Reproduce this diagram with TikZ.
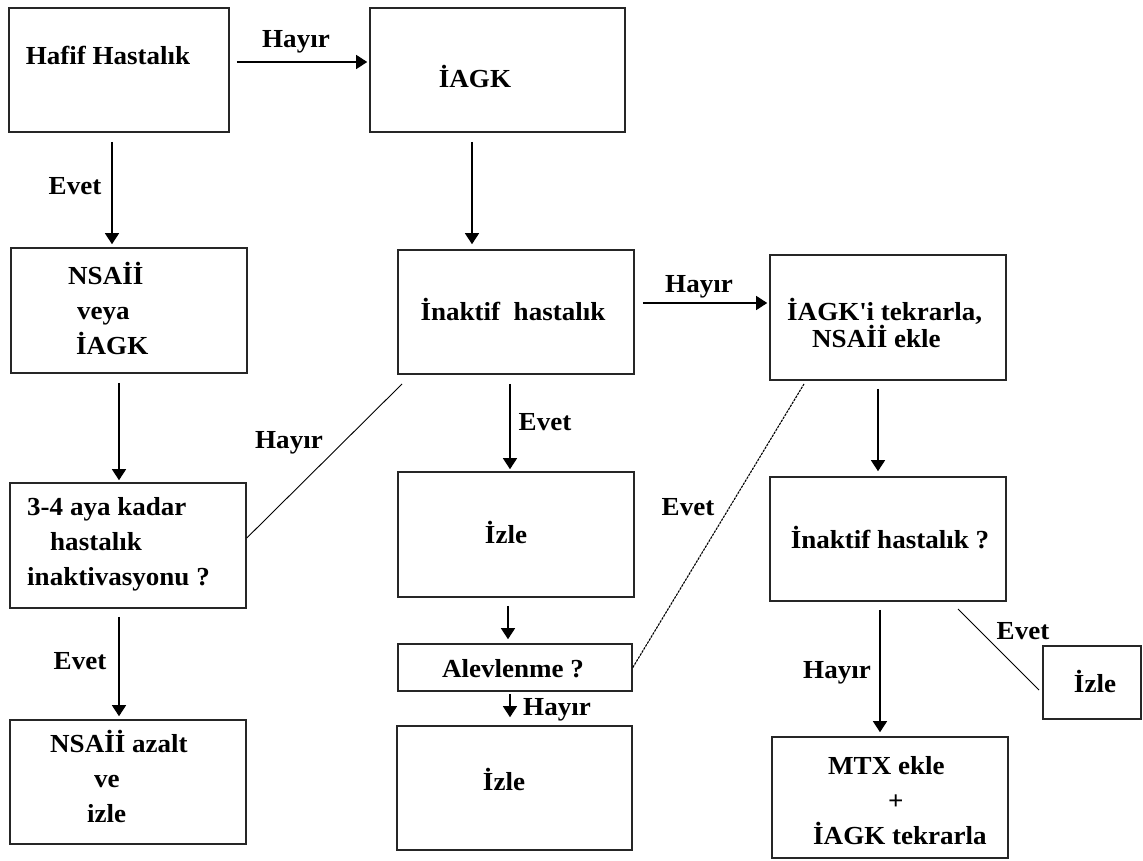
\documentclass[tikz,border=0pt]{standalone}
\usepackage{fontspec}
\setmainfont{Liberation Serif}[FakeStretch=1.04]
\usetikzlibrary{arrows.meta}
\tikzset{
  box/.style={draw=black!85, line width=1.6pt, inner sep=0pt},
  txt/.style={font=\fontsize{26}{35}\selectfont\bfseries, inner sep=0pt},
  lbl/.style={font=\fontsize{26}{30}\selectfont\bfseries, inner sep=0pt, anchor=base},
  arr/.style={line width=1.3pt, -{Triangle[width=14pt,length=11pt]}},
  ln/.style={line width=0.9pt},
}
\begin{document}
\begin{tikzpicture}[x=1pt,y=-1pt]
\useasboundingbox (0,0) rectangle (1143,861);
% boxes
\node[box, minimum width=220pt, minimum height=124pt] (A) at (119,70) {};
\node[box, minimum width=255pt, minimum height=124pt] (B) at (497.5,70) {};
\node[box, minimum width=236pt, minimum height=125pt] (C) at (129,310.5) {};
\node[box, minimum width=236pt, minimum height=124pt] (D) at (516,312) {};
\node[box, minimum width=236pt, minimum height=125pt] (E) at (888,317.5) {};
\node[box, minimum width=236pt, minimum height=124pt] (F) at (888,539) {};
\node[box, minimum width=236pt, minimum height=125pt] (G) at (128,545.5) {};
\node[box, minimum width=236pt, minimum height=125pt] (H) at (516,534.5) {};
\node[box, minimum width=234pt, minimum height=47pt] (I) at (515,667.5) {};
\node[box, minimum width=235pt, minimum height=124pt] (J) at (514.5,788) {};
\node[box, minimum width=236pt, minimum height=121pt] (K) at (890,797.5) {};
\node[box, minimum width=98pt, minimum height=73pt] (L) at (1092,682.5) {};
\node[box, minimum width=236pt, minimum height=124pt] (M) at (128,782) {};
% texts
\node[txt, anchor=base] (tA) at (108,65) {Hafif Hastalık};
\node[txt, anchor=base] (tB) at (475,88) {İAGK};
\node[txt, anchor=west, align=left] (tC) at (68,308) {NSAİİ\\\hspace*{9pt}veya\\\hspace*{8pt}İAGK};
\node[txt, anchor=base] (tD) at (513,320) {İnaktif\ \ hastalık};
\node[txt, anchor=west, align=left, font=\fontsize{26}{27}\selectfont\bfseries] (tE) at (787,323) {İAGK\textquotesingle i tekrarla,\\\hspace*{25pt}NSAİİ ekle};
\node[txt, anchor=base] (tF) at (890,548) {İnaktif hastalık ?};
\node[txt, anchor=west, align=left] (tG) at (27,544) {3-4 aya kadar\\\hspace*{23pt}hastalık\\inaktivasyonu ?};
\node[txt, anchor=base] (tH) at (506,543) {İzle};
\node[txt, anchor=base] (tI) at (513,677) {Alevlenme ?};
\node[txt, anchor=base] (tJ) at (504,790) {İzle};
\node[txt, anchor=west, align=left] (tK) at (813,801) {\hspace*{15pt}MTX ekle\\\hspace*{75pt}+\\İAGK tekrarla};
\node[txt, anchor=base] (tL) at (1095,692) {İzle};
\node[txt, anchor=west, align=left] (tM) at (50,776) {NSAİİ azalt\\\hspace*{44pt}ve\\\hspace*{37pt}izle};
% arrows
\draw[arr, shorten <=7pt, shorten >=2pt] (A.east |- 0,62) -- (B.west |- 0,62);
\draw[arr, shorten <=9pt, shorten >=3pt] (112,0 |- A.south) -- (112,0 |- C.north);
\draw[arr, shorten <=9pt, shorten >=5pt] (472,0 |- B.south) -- (472,0 |- D.north);
\draw[arr, shorten <=9pt, shorten >=2pt] (119,0 |- C.south) -- (119,0 |- G.north);
\draw[arr, shorten <=8pt, shorten >=2pt] (D.east |- 0,303) -- (E.west |- 0,303);
\draw[arr, shorten <=9pt, shorten >=2pt] (510,0 |- D.south) -- (510,0 |- H.north);
\draw[arr, shorten <=8pt, shorten >=5pt] (878,0 |- E.south) -- (878,0 |- F.north);
\draw[arr, shorten <=8pt, shorten >=4pt] (508,0 |- H.south) -- (508,0 |- I.north);
\draw[arr, shorten <=2pt, shorten >=8pt] (510,0 |- I.south) -- (510,0 |- J.north);
\draw[arr, shorten <=8pt, shorten >=4pt] (880,0 |- F.south) -- (880,0 |- K.north);
\draw[arr, shorten <=8pt, shorten >=3pt] (119,0 |- G.south) -- (119,0 |- M.north);
% lines
\coordinate (gd) at (402,384);
\coordinate (ie) at (804,384);
\coordinate (fl1) at (958,609);
\coordinate (fl2) at (1039,690);
\draw[ln] (G.east |- 0,538) -- (gd);
\draw[line width=1.1pt, dash pattern=on 2.5pt off 1pt] (I.east) -- (ie);
\draw[ln] (fl1) -- (fl2);
% labels
\node[lbl] (l1) at (296,48) {Hayır};
\node[lbl] (l2) at (75,195) {Evet};
\node[lbl] (l3) at (289,448) {Hayır};
\node[lbl] (l4) at (699,292) {Hayır};
\node[lbl] (l5) at (545,430) {Evet};
\node[lbl] (l6) at (688,515) {Evet};
\node[lbl] (l7) at (557,715) {Hayır};
\node[lbl] (l8) at (837,678) {Hayır};
\node[lbl] (l9) at (1023,639) {Evet};
\node[lbl] (l10) at (80,669) {Evet};
\end{tikzpicture}
\end{document}
